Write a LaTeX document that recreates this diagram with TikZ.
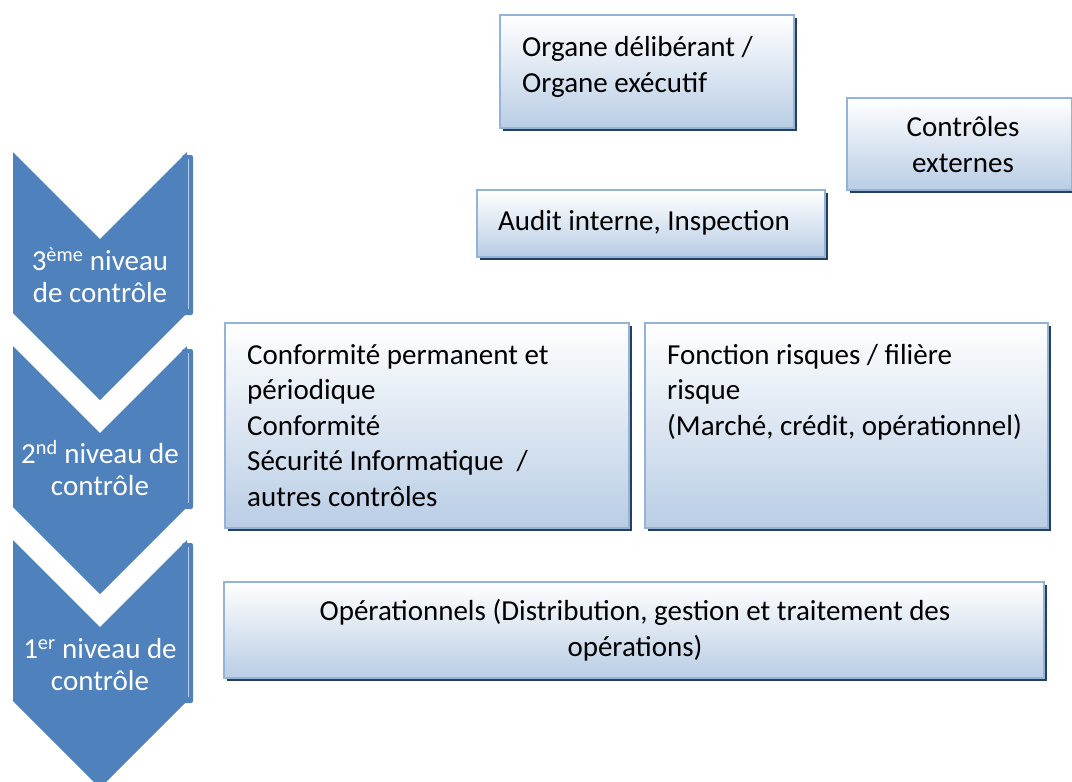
\documentclass[tikz,border=0pt]{standalone}
\usepackage{fontspec}
\setmainfont{Carlito}
\usetikzlibrary{shadows}
\definecolor{chev}{HTML}{4F81BD}
\definecolor{boxborder}{HTML}{95B3D7}
\definecolor{boxbot}{HTML}{B9CDE5}
\definecolor{shadowc}{HTML}{243F60}
\tikzset{
  lvlbox/.style={draw=boxborder, line width=1.6pt, top color=white, bottom color=boxbot,
    drop shadow={shadow xshift=3pt, shadow yshift=-3pt, fill=shadowc, opacity=1}},
  boxtext/.style={inner sep=0pt, align=left, font=\fontsize{29}{35.5}\selectfont, text=black},
  chevtext/.style={inner sep=0pt, align=center, font=\fontsize{29}{31.5}\selectfont, text=white},
  chevfill/.style={fill=chev},
}
\newcommand{\chevron}[1]{%
  \fill[chevfill] (13,#1) -- (100,#1+87) -- (187,#1) -- (187,#1+161) -- (100,#1+248) -- (13,#1+161) -- cycle;
  \fill[chevfill, rounded corners=2pt] (182,#1+3) rectangle (193,#1+163);
  \draw[white, opacity=0.6, line width=0.6pt] (188.5,#1+7) -- (188.5,#1+157);
}
\begin{document}
\begin{tikzpicture}[x=1pt,y=-1pt]
\useasboundingbox (0,0) rectangle (1072,782);
\begin{scope}
\clip (0,0) rectangle (1072,782);
\chevron{152}
\chevron{346}
\chevron{540}
\end{scope}
\node[chevtext, anchor=base] (t3) at (100,302) {3\textsuperscript{ème} niveau\\de contrôle};
\node[chevtext, anchor=base] (t2) at (100,495) {2\textsuperscript{nd} niveau de\\contrôle};
\node[chevtext, anchor=base] (t1) at (100,690) {1\textsuperscript{er} niveau de\\contrôle};

\path[lvlbox] (500,15) rectangle (794,128);
\path[lvlbox] (847,98) rectangle (1072,190);
\path[lvlbox] (477,190) rectangle (825,257);
\path[lvlbox] (225,323) rectangle (629,528);
\path[lvlbox] (645,323) rectangle (1048,528);
\path[lvlbox] (224,582) rectangle (1044,678);

\node[boxtext, anchor=base west] (organe) at (522,92) {Organe délibérant /\\Organe exécutif};
\node[boxtext, anchor=base, align=center] (ext) at (963,172) {Contrôles\\externes};
\node[boxtext, anchor=base west] (audit) at (498,230) {Audit interne, Inspection};
\node[boxtext, anchor=base west] (conf) at (247,506) {Conformité permanent et\\périodique\\Conformité\\Sécurité Informatique~~/\\autres contrôles};
\node[boxtext, anchor=base west] (fonc) at (667,435) {Fonction risques / filière\\risque\\(Marché, crédit, opérationnel)};
\node[boxtext, anchor=base, align=center] (oper) at (635,656) {Opérationnels (Distribution, gestion et traitement des\\opérations)};
\end{tikzpicture}
\end{document}
